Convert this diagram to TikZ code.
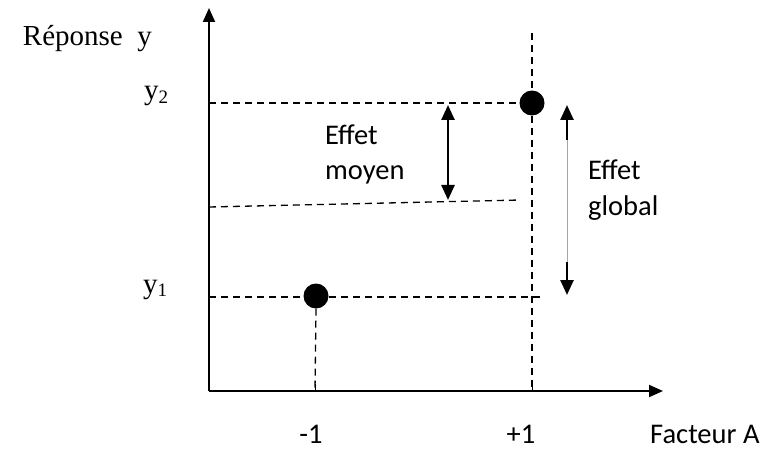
\documentclass[tikz,border=0pt]{standalone}
\usepackage{fontspec}
\setmainfont{Liberation Serif}
\newfontfamily\calib{Carlito}
\usetikzlibrary{arrows.meta}
\tikzset{
  axis/.style={line width=2pt,-{Triangle[length=14pt,width=12pt]}},
  guide/.style={line width=1.3pt,dash pattern=on 7pt off 5pt},
  dot/.style={circle,fill=black,inner sep=0pt,minimum size=25pt},
  bigarrow/.style={line width=2.5pt,{Triangle[length=15pt,width=13pt]}-{Triangle[length=15pt,width=13pt]}},
  halfarrow/.style={line width=2.5pt,-{Triangle[length=15pt,width=13pt]}},
  serif/.style={font=\fontsize{29}{35}\selectfont,inner sep=0pt},
  sans/.style={font=\calib\fontsize{28.5}{35}\selectfont,inner sep=0pt},
}
\begin{document}
\begin{tikzpicture}[x=1pt,y=-1pt]
\useasboundingbox (0,0) rectangle (765,449);
% axes
\coordinate (O) at (209,391);
\coordinate (ytip) at (209,8);
\coordinate (xtip) at (663,391);
\draw[axis] (O) -- (ytip);
\draw[axis] (O) -- (xtip);
% ticks
\coordinate (tm) at (315,391);
\coordinate (tp) at (532,391);
\coordinate (tmu) at (315,384);
\coordinate (tpu) at (532,384);
\draw[line width=1pt] (tm) -- (tmu);
\draw[line width=1pt] (tp) -- (tpu);
% dots
\node[dot] (d1) at (316,296) {};
\node[dot] (d2) at (532,103) {};
% guide lines
\coordinate (y2a) at (209,103);
\coordinate (y1a) at (209,297);
\coordinate (y1e) at (543,297);
\coordinate (vtop) at (532,33);
\coordinate (ma) at (209,207);
\coordinate (mb) at (520,200);
\draw[guide] (y2a) -- (d2.west);
\draw[guide] (y1a) -- (y1e);
\draw[guide] (vtop) -- (d2.north);
\draw[guide] (d2.south) -- (tp);
\draw[guide] (d1.south) -- (tm);
\draw[guide] (ma) -- (mb);
% effet moyen arrow
\coordinate (ema) at (448,105);
\coordinate (emb) at (448,200);
\draw[bigarrow] (ema) -- (emb);
% effet global arrow
\coordinate (ega) at (567,105);
\coordinate (egb) at (567,295);
\coordinate (egc) at (567,140);
\coordinate (egd) at (567,262);
\draw[line width=0.8pt,gray!70] (egc) -- (egd);
\draw[halfarrow] (egc) -- (ega);
\draw[halfarrow] (egd) -- (egb);
% labels
\node[serif,anchor=base east] (rep) at (152,46) {Réponse~~y};
\node[serif,anchor=base west] (ly2) at (144,100) {y\raisebox{-0.12em}{\fontsize{19}{19}\selectfont 2}};
\node[serif,anchor=base west] (ly1) at (143,293) {y\raisebox{-0.12em}{\fontsize{19}{19}\selectfont 1}};
\node[sans,anchor=base west] (em1) at (325,145) {Effet};
\node[sans,anchor=base west] (em2) at (325,180) {moyen};
\node[sans,anchor=base west] (eg1) at (588,180) {Effet};
\node[sans,anchor=base west] (eg2) at (588,215) {global};
\node[sans,anchor=base] (lm) at (311,443) {-1};
\node[sans,anchor=base] (lp) at (521,443) {+1};
\node[sans,anchor=base west] (fa) at (650,443) {Facteur A};
\end{tikzpicture}
\end{document}
